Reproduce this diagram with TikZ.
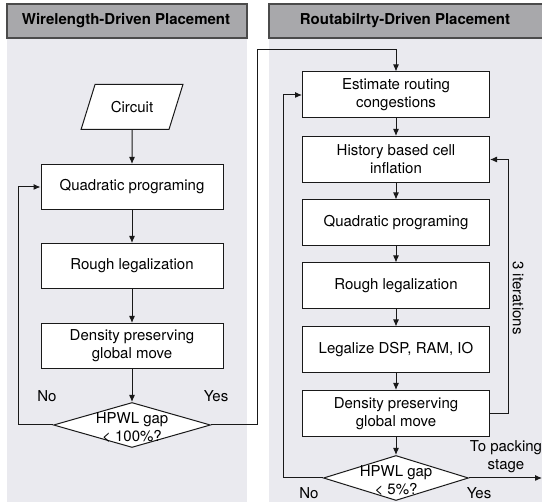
\documentclass[tikz,border=0pt]{standalone}
\usepackage{fontspec}
\setmainfont{TeX Gyre Heros}
\usetikzlibrary{shapes.geometric,arrows.meta}
\definecolor{panelbg}{RGB}{234,234,239}
\definecolor{headfill}{RGB}{168,168,171}
\definecolor{headline}{RGB}{75,75,75}
\definecolor{edge}{RGB}{25,25,25}
\begin{document}
\begin{tikzpicture}[x=0.5pt,y=-0.5pt,font=\fontsize{7.5}{9}\selectfont]
	% styles
	\tikzstyle{procbox}=[draw=edge,fill=white,line width=0.5pt,minimum width=91pt,minimum height=22.5pt,align=center,inner sep=1pt]
	\tikzstyle{rbox}=[procbox,minimum width=93.5pt,minimum height=23pt]
	\tikzstyle{decbox}=[draw=edge,fill=white,line width=0.5pt,diamond,inner sep=0pt,minimum height=22.5pt]
	\tikzstyle{headbar}=[draw=headline,fill=headfill,line width=0.6pt]
	\tikzstyle{headtext}=[font=\fontsize{7.5}{9}\selectfont\bfseries]
	\tikzstyle{flowarr}=[draw=edge,line width=0.5pt,-{Latex[length=3.5pt,width=3pt]}]
	
	% bounding box
	\useasboundingbox (0,0) rectangle (542,502);
	
	% panels
	\fill[panelbg] (7,38) rectangle (247,502);
	\fill[panelbg] (269,38) rectangle (542,502);
	\path[headbar] (7,4) rectangle (247,38);
	\path[headbar] (269,4) rectangle (543,38);
	\node[headtext] (lhead) at (126,21) {Wirelength-Driven Placement};
	\node[headtext] (rhead) at (405,21) {Routabilrty-Driven Placement};
	
	% wirelength-driven flow
	\node[draw=edge,fill=white,line width=0.5pt,trapezium,trapezium left angle=67,trapezium right angle=113,
	trapezium stretches=true,minimum width=51pt,minimum height=22.5pt] (circuit) at (132,107) {Circuit};
	\node[procbox] (lqp) at (132,187) {Quadratic programing};
	\node[procbox] (lrough) at (132,266) {Rough legalization};
	\node[procbox] (ldens) at (132,346) {Density preserving\\global move};
	\node[decbox,minimum width=78.5pt,
	label={[align=center,yshift=-1.5pt]center:HPWL gap\\< 100\%?}] (ldec) at (132,425) {};
	\node (lno) at (47,396) {No};
	\node (lyes) at (216,396) {Yes};
	
	\path[flowarr] (circuit) -- (lqp);
	\path[flowarr] (lqp) -- (lrough);
	\path[flowarr] (lrough) -- (ldens);
	\path[flowarr] (ldens) -- (ldec);
	\path[flowarr] (ldec.west) -- ++(-35,0) |- (lqp.west);
	
	% routability-driven flow
	\node[rbox] (est) at (396,95) {Estimate routing\\congestions};
	\node[rbox] (hist) at (396,159.5) {History based cell\\inflation};
	\node[rbox] (rqp) at (396,223) {Quadratic programing};
	\node[rbox] (rrough) at (396,286) {Rough legalization};
	\node[rbox] (legal) at (396,350) {Legalize DSP, RAM, IO};
	\node[rbox] (rdens) at (396,413.5) {Density preserving\\global move};
	\node[decbox,minimum width=72.5pt,
	label={[align=center,yshift=-1.5pt]center:HPWL gap\\< 5\%?}] (rdec) at (396,478) {};
	\node (rno) at (309,493) {No};
	\node (ryes) at (479,493) {Yes};
	\node[align=center] (topack) at (506,457) {To packing\\stage};
	\node[rotate=-90] (iters) at (518,298) {3 iterations};
	
	\coordinate (bridge) at (257,50);
	\coordinate (exit) at (542,478);
	\path[flowarr] (ldec.east) -| (bridge) -| (est.north);
	\path[flowarr] (est) -- (hist);
	\path[flowarr] (hist) -- (rqp);
	\path[flowarr] (rqp) -- (rrough);
	\path[flowarr] (rrough) -- (legal);
	\path[flowarr] (legal) -- (rdens);
	\path[flowarr] (rdens) -- (rdec);
	\path[flowarr] (rdens.east) -- ++(18,0) |- (hist.east);
	\path[flowarr] (rdec.west) -- ++(-40,0) |- (est.west);
	\path[flowarr] (rdec.east) -- (exit);
\end{tikzpicture}
\end{document}
